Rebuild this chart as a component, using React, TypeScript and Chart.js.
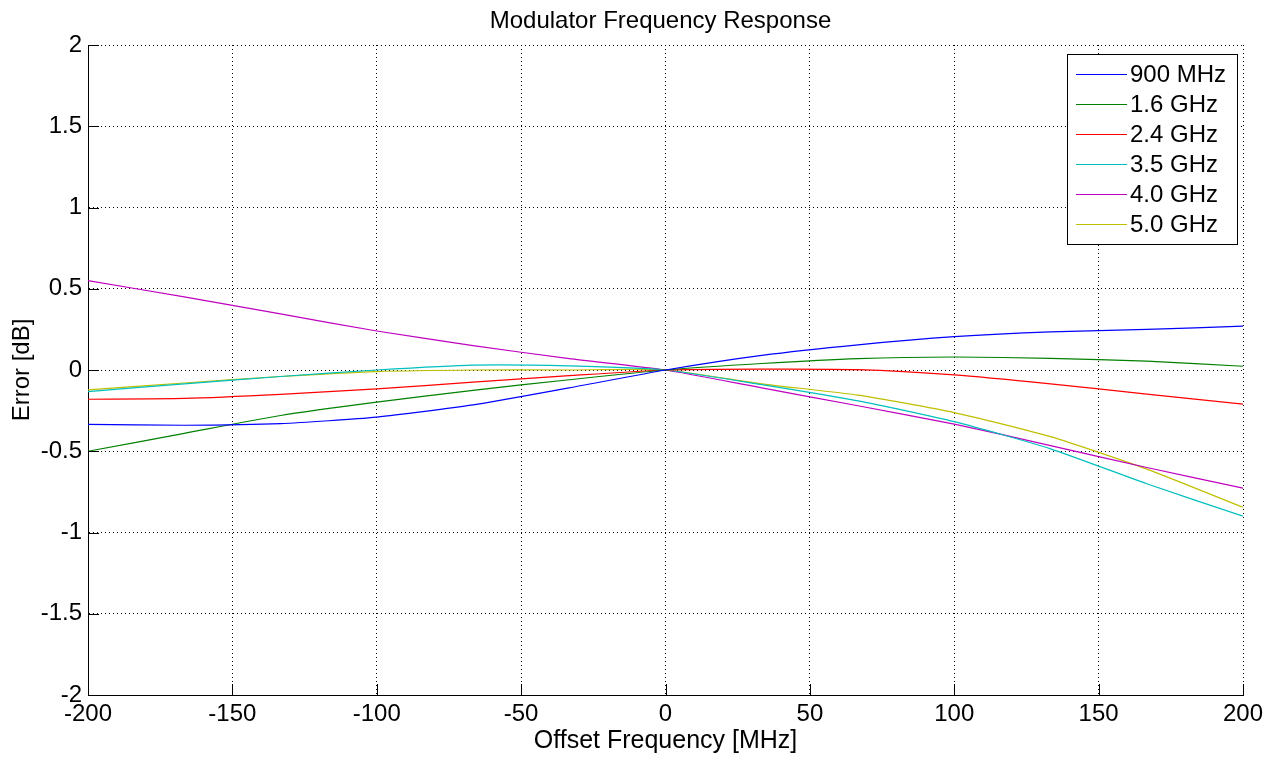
import React, { useEffect, useRef } from "react";
import { Chart, registerables } from "chart.js";

Chart.register(...registerables);

const FONT = '"Liberation Sans", Arial, sans-serif';

const titleText = "Modulator Frequency Response";
const xTitle = "Offset Frequency [MHz]";
const yTitle = "Error [dB]";

const offsetFreq = [-200, -166.67, -133.33, -100, -66.67, -33.33, 0, 33.33, 66.67, 100, 133.33, 166.67, 200];

const seriesLabels = ["900 MHz", "1.6 GHz", "2.4 GHz", "3.5 GHz", "4.0 GHz", "5.0 GHz"];
const seriesColors = ["#0000ff", "#008000", "#ff0000", "#00bfbf", "#bf00bf", "#bfbf00"];

const err900M = [-0.335, -0.34, -0.33, -0.29, -0.215, -0.11, 0, 0.09, 0.155, 0.205, 0.235, 0.25, 0.27];
const err1G6 = [-0.5, -0.39, -0.28, -0.198, -0.125, -0.06, 0, 0.04, 0.07, 0.08, 0.072, 0.055, 0.023];
const err2G4 = [-0.18, -0.175, -0.15, -0.116, -0.075, -0.035, 0, 0.005, 0.002, -0.03, -0.085, -0.148, -0.21];
const err3G5 = [-0.133, -0.085, -0.04, 0.0, 0.03, 0.025, 0, -0.09, -0.19, -0.318, -0.485, -0.7, -0.9];
const err4G0 = [0.55, 0.45, 0.345, 0.24, 0.15, 0.07, 0, -0.11, -0.22, -0.333, -0.465, -0.6, -0.727];
const err5G0 = [-0.122, -0.08, -0.04, -0.01, 0.0, 0.0, 0, -0.085, -0.155, -0.262, -0.41, -0.61, -0.845];

const seriesValues = [err900M, err1G6, err2G4, err3G5, err4G0, err5G0];

const xTicks = [-200, -150, -100, -50, 0, 50, 100, 150, 200];
const yTicks = [-2, -1.5, -1, -0.5, 0, 0.5, 1, 1.5, 2];

const decorPlugin = {
  id: "decor",
  afterDraw(chart: any) {
    const { ctx, chartArea } = chart;
    const xs = chart.scales.x;
    const ys = chart.scales.y;
    ctx.save();
    // inward tick marks
    ctx.strokeStyle = "#000";
    ctx.lineWidth = 1;
    ctx.beginPath();
    const tl = 11;
    yTicks.forEach((v) => {
      const y = Math.round(ys.getPixelForValue(v)) + 0.5;
      ctx.moveTo(chartArea.left, y);
      ctx.lineTo(chartArea.left + tl, y);
    });
    xTicks.forEach((v) => {
      const x = Math.round(xs.getPixelForValue(v)) + 0.5;
      ctx.moveTo(x, chartArea.bottom);
      ctx.lineTo(x, chartArea.bottom - tl);
    });
    ctx.stroke();

    // title
    ctx.fillStyle = "#000";
    ctx.font = `24px ${FONT}`;
    ctx.textAlign = "center";
    ctx.textBaseline = "middle";
    ctx.fillText(titleText, (chartArea.left + chartArea.right) / 2 - 5, 21);

    // legend
    const boxRight = chartArea.right - 6;
    const boxLeft = boxRight - 170;
    const boxTop = chartArea.top + 9;
    const boxBottom = boxTop + 190;
    ctx.fillStyle = "#fff";
    ctx.fillRect(boxLeft, boxTop, boxRight - boxLeft, boxBottom - boxTop);
    ctx.strokeStyle = "#000";
    ctx.strokeRect(Math.round(boxLeft) + 0.5, Math.round(boxTop) + 0.5, boxRight - boxLeft, boxBottom - boxTop);
    ctx.textAlign = "left";
    ctx.font = `24px ${FONT}`;
    chart.data.datasets.forEach((ds: any, i: number) => {
      const y = boxTop + 20 + i * 30;
      ctx.strokeStyle = ds.borderColor;
      ctx.beginPath();
      ctx.moveTo(boxLeft + 9, Math.round(y) + 0.5);
      ctx.lineTo(boxLeft + 60, Math.round(y) + 0.5);
      ctx.stroke();
      ctx.fillStyle = "#000";
      ctx.fillText(ds.label, boxLeft + 63, y + 1);
    });
    ctx.restore();
  },
};

export default function App() {
  const ref = useRef<HTMLCanvasElement>(null);

  useEffect(() => {
    if (!ref.current) return;
    Chart.defaults.font.family = FONT;
    Chart.defaults.color = "#000";
    const chart = new Chart(ref.current, {
      type: "line",
      data: {
        datasets: seriesLabels.map((label, i) => ({
          label,
          data: offsetFreq.map((x, j) => ({ x, y: seriesValues[i][j] })),
          borderColor: seriesColors[i],
          backgroundColor: seriesColors[i],
          borderWidth: 1.2,
          pointRadius: 0,
          tension: 0.2,
          fill: false,
        })),
      },
      options: {
        animation: false,
        responsive: false,
        maintainAspectRatio: false,
        layout: { padding: { top: 45, right: 33, left: 0, bottom: 0 } },
        plugins: {
          legend: { display: false },
          title: { display: false },
          tooltip: { enabled: false },
        },
        scales: {
          x: {
            type: "linear",
            min: -200,
            max: 200,
            afterFit: (s: any) => {
              s.height = 63;
            },
            afterBuildTicks: (s: any) => {
              s.ticks = xTicks.map((v) => ({ value: v }));
            },
            ticks: {
              autoSkip: false,
              maxRotation: 0,
              padding: 5,
              font: { size: 24 },
              color: "#000",
              callback: (v: any) => String(v),
            },
            grid: { color: "#000", lineWidth: 1, drawTicks: false },
            border: { display: true, color: "#000", width: 1, dash: [1, 3] },
            title: {
              display: true,
              text: xTitle,
              font: { size: 25 },
              color: "#000",
              padding: { top: 0, bottom: 2 },
            },
          },
          y: {
            type: "linear",
            min: -2,
            max: 2,
            afterFit: (s: any) => {
              s.width = 88;
            },
            afterBuildTicks: (s: any) => {
              s.ticks = yTicks.map((v) => ({ value: v }));
            },
            ticks: {
              autoSkip: false,
              padding: 6,
              font: { size: 24 },
              color: "#000",
              callback: (v: any) => String(v),
            },
            grid: { color: "#000", lineWidth: 1, drawTicks: false },
            border: { display: true, color: "#000", width: 1, dash: [1, 3] },
            title: {
              display: true,
              text: yTitle,
              font: { size: 24 },
              color: "#000",
              padding: { top: 8, bottom: 0 },
            },
          },
        },
      },
      plugins: [decorPlugin],
    });
    return () => chart.destroy();
  }, []);

  return (
    <div style={{ position: "fixed", left: 0, top: 0, width: 1276, height: 758, background: "#fff" }}>
      <canvas ref={ref} width={1276} height={758} style={{ width: 1276, height: 758, display: "block" }} />
    </div>
  );
}
